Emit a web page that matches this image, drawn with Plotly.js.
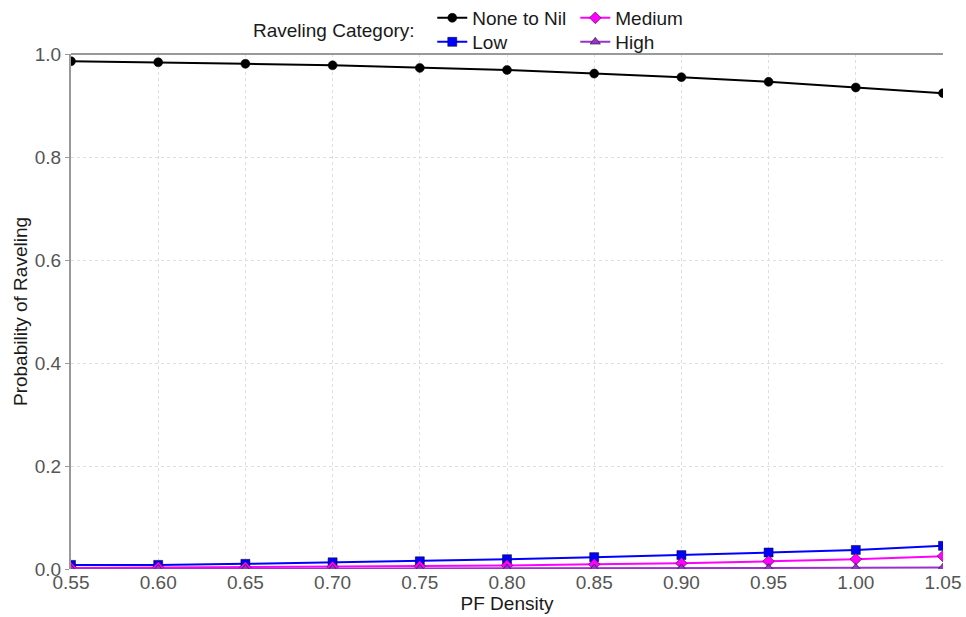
<!DOCTYPE html>
<html>
<head>
<meta charset="utf-8">
<script src="https://cdn.plot.ly/plotly-3.0.1.min.js"></script>
<style>html,body{margin:0;padding:0;background:#fff;}#chart{width:966px;height:617px;}</style>
</head>
<body>
<div id="chart"></div>
<script>
const pfDensity = [0.55, 0.60, 0.65, 0.70, 0.75, 0.80, 0.85, 0.90, 0.95, 1.00, 1.05];
const noneToNil = [0.986, 0.984, 0.981, 0.978, 0.973, 0.969, 0.962, 0.955, 0.946, 0.935, 0.924];
const low       = [0.008, 0.008, 0.010, 0.013, 0.015, 0.019, 0.023, 0.027, 0.032, 0.037, 0.045];
const medium    = [0.002, 0.003, 0.003, 0.004, 0.005, 0.007, 0.009, 0.011, 0.015, 0.019, 0.025];
const high      = [0.0002, 0.0003, 0.0004, 0.0005, 0.0006, 0.0008, 0.001, 0.0013, 0.0017, 0.0022, 0.003];
const seriesNames = ['None to Nil', 'Low', 'Medium', 'High'];
const legendTitle = 'Raveling Category:';
const xTitle = 'PF Density';
const yTitle = 'Probability of Raveling';

function tr(name, y, color, symbol, legend) {
  return {
    x: pfDensity, y: y, name: name, type: 'scatter', mode: 'lines+markers',
    line: {color: color, width: 2},
    marker: {color: color, symbol: symbol, size: 9, line: {color: '#000', width: 0.5}},
    legend: legend
  };
}
const data = [
  tr(seriesNames[0], noneToNil, '#000000', 'circle', 'legend'),
  tr(seriesNames[1], low, '#0000FF', 'square', 'legend2'),
  tr(seriesNames[2], medium, '#FF00FF', 'diamond', 'legend3'),
  tr(seriesNames[3], high, '#9932CC', 'triangle-up', 'legend4')
];
function leg(x, y) {
  return {
    orientation: 'v', yanchor: 'middle', xanchor: 'left', x: x, y: y,
    font: {family: 'Liberation Sans, Arial, sans-serif', size: 19, color: '#1a1a1a'},
    bgcolor: 'rgba(0,0,0,0)', tracegroupgap: 0, itemwidth: 30
  };
}
const layout = {
  width: 966, height: 617,
  margin: {l: 71, r: 23, t: 54, b: 48, autoexpand: false},
  paper_bgcolor: '#fff', plot_bgcolor: '#fff',
  font: {family: 'Liberation Sans, Arial, sans-serif', size: 19, color: '#1a1a1a'},
  showlegend: true,
  legend: leg(0.4143, 1.070),
  legend2: leg(0.4143, 1.0233),
  legend3: leg(0.5783, 1.070),
  legend4: leg(0.5783, 1.0233),
  xaxis: {
    range: [0.55, 1.05], tick0: 0.55, dtick: 0.05, tickformat: '.2f',
    showgrid: true, gridcolor: '#dedede', griddash: 'dot', gridwidth: 1,
    zeroline: false, showline: false,
    ticks: '',
    tickfont: {size: 19, color: '#555'},
    title: {text: xTitle, font: {size: 19, color: '#1a1a1a'}, standoff: 4}
  },
  yaxis: {
    range: [0, 1.0], dtick: 0.2, tickformat: '.1f',
    showgrid: true, gridcolor: '#dedede', griddash: 'dot', gridwidth: 1,
    zeroline: false, showline: true, linecolor: '#999', linewidth: 2,
    ticks: 'outside', ticklen: 4, tickcolor: '#999',
    tickfont: {size: 19, color: '#555'},
    title: {text: yTitle, font: {size: 19, color: '#1a1a1a'}, standoff: 2}
  },
  shapes: [{type: 'line', xref: 'paper', yref: 'paper', x0: 0, x1: 1, y0: 1, y1: 1,
            line: {color: '#999', width: 2}}],
  annotations: [{text: legendTitle, xref: 'paper', yref: 'paper', x: 0.3016, y: 1.0447,
                 xanchor: 'center', yanchor: 'middle', showarrow: false,
                 font: {size: 19, color: '#1a1a1a'}}]
};
Plotly.newPlot('chart', data, layout, {displayModeBar: false, staticPlot: true});
</script>
</body>
</html>
